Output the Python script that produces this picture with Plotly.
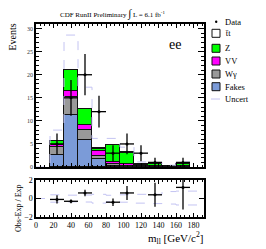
import plotly.graph_objects as go

# ---------------- data ----------------
bin_width = 16
centers = [24, 40, 56, 72, 88, 104, 120, 136, 152, 168]
fakes = [2.6, 11.3, 5.9, 1.8, 0.3, 0.1, 0.1, 0.05, 0.0, 0.05]
wgam  = [1.7, 3.8, 2.2, 0.6, 0.3, 0.1, 0.05, 0.05, 0.0, 0.0]
vv    = [0.5, 1.4, 0.9, 1.1, 0.5, 0.5, 0.2, 0.15, 0.1, 0.1]
zjets = [0.9, 4.5, 3.6, 0.5, 3.7, 2.4, 0.4, 0.4, 0.1, 0.5]
ttbar = [0.0, 0.05, 0.05, 0.05, 0.05, 0.05, 0.0, 0.0, 0.0, 0.0]

data_x   = [24, 40, 56, 72, 88, 104, 120, 136, 168]
data_y   = [5, 15, 20, 12, 3, 5, 3, 1, 1]
data_err = [2.24, 3.87, 4.47, 3.46, 1.73, 2.24, 1.73, 1.0, 1.0]

unc_edges = [0, 16, 32, 48, 64, 80, 96, 112, 128, 144, 160, 176]
unc_hi    = [0, 8.0, 28.6, 17.3, 6.2, 6.2, 4.3, 1.1, 1.0, 0.4, 1.1]

ratio_x   = [24, 40, 56, 88, 104, 136, 168]
ratio_y   = [-0.1, -0.3, 0.6, -0.4, 0.6, 0.4, 1.2]
ratio_err = [0.45, 0.2, 0.35, 0.4, 0.75, 1.3, 2.4]

runc_edges = [0, 16, 32, 48, 64, 80, 96, 112, 128, 144, 160, 176, 192]
runc_hi = [0, 0.4, 0.36, 0.38, 0.45, 0.35, 0.4, 0.45, 0.45, 0.75, 0.8, 0.8]
runc_lo = [0, -0.4, -0.36, -0.38, -0.5, -0.35, -0.4, -0.5, -0.55, -0.6, -0.7, -0.7]

legend_labels = ["Data", "t\u0304t", "Z", "VV", "W\u03b3", "Fakes", "Uncert"]

C_Z = "#00ff00"
C_VV = "#ff00ff"
C_WG = "#999999"
C_FK = "#7b9bd8"
C_TT = "#ffffff"
C_UNC = "#c4c4f2"
FONT = "Liberation Serif"

fig = go.Figure()

# stacked backgrounds
for name, vals, col in [("Fakes", fakes, C_FK), ("Wg", wgam, C_WG), ("VV", vv, C_VV),
                        ("Z", zjets, C_Z), ("tt", ttbar, C_TT)]:
    fig.add_trace(go.Bar(x=centers, y=vals, width=bin_width, name=name,
                         marker=dict(color=col, line=dict(color="#111111", width=1.3)),
                         xaxis="x", yaxis="y", showlegend=False))

# uncertainty upper step
fig.add_trace(go.Scatter(x=unc_edges, y=unc_hi + [unc_hi[-1]], mode="lines", line_shape="hv",
                         line=dict(color=C_UNC, width=1, dash="dash"),
                         xaxis="x", yaxis="y", showlegend=False))

# data
fig.add_trace(go.Scatter(x=data_x, y=data_y, mode="markers",
                         marker=dict(color="black", size=3),
                         error_x=dict(type="constant", value=bin_width / 2, color="black", thickness=1.3, width=0),
                         error_y=dict(type="data", array=data_err, color="black", thickness=1.3, width=0),
                         xaxis="x", yaxis="y", showlegend=False))

# ratio uncertainty band
for arr in (runc_hi, runc_lo):
    fig.add_trace(go.Scatter(x=runc_edges, y=arr + [arr[-1]], mode="lines", line_shape="hv",
                             line=dict(color=C_UNC, width=1, dash="dash"),
                             xaxis="x2", yaxis="y2", showlegend=False))

fig.add_trace(go.Scatter(x=ratio_x, y=ratio_y, mode="markers",
                         marker=dict(color="black", size=3),
                         error_x=dict(type="constant", value=bin_width / 2, color="black", thickness=1.3, width=0),
                         error_y=dict(type="data", array=ratio_err, color="black", thickness=1.3, width=0),
                         xaxis="x2", yaxis="y2", showlegend=False))

# geometry: page body adds an 8px offset, so the figure is 8px smaller
OFF = 8
W, H = 266 - OFF, 249 - OFF
L, T = 36 - OFF, 24 - OFF
R = W - (204 - OFF)
B = H - (217 - OFF)
PW, PH = W - L - R, H - T - B


def px(x):
    return (x - OFF - L) / PW


def py(y):
    return (H - B - (y - OFF)) / PH


axis_common = dict(showgrid=False, zeroline=False, showline=True, linecolor="black", linewidth=1.5,
                   mirror="allticks", ticks="inside", tickcolor="black")

fig.update_layout(
    width=W, height=H, margin=dict(l=L, r=R, t=T, b=B, autoexpand=False),
    paper_bgcolor="white", plot_bgcolor="white",
    barmode="stack", bargap=0, showlegend=False,
    font=dict(family=FONT, color="black"),
    xaxis=dict(domain=[0, 1], range=[0, 192], anchor="y", matches="x2", showticklabels=False,
               dtick=20, tick0=0, ticklen=4, minor=dict(dtick=5, ticklen=2, ticks="inside", tickcolor="black"),
               **axis_common),
    yaxis=dict(domain=[py(167), 1], range=[0, 31], dtick=5, ticklen=6,
               tickfont=dict(size=6, color="#333333"),
               minor=dict(dtick=1, ticklen=3, ticks="inside", tickcolor="black"), **axis_common),
    xaxis2=dict(domain=[0, 1], range=[0, 192], anchor="y2", dtick=20, tick0=0, ticklen=4,
                tickfont=dict(size=8), minor=dict(dtick=5, ticklen=2, ticks="inside", tickcolor="black"),
                **axis_common),
    yaxis2=dict(domain=[0, py(180)], range=[-2, 2], dtick=2, ticklen=5, tickfont=dict(size=8),
                anchor="x2", **axis_common),
)

ann = []
ann.append(dict(x=px(112), y=py(13), xref="paper", yref="paper", showarrow=False,
                xanchor="center", yanchor="middle",
                text="CDF RunII Preliminary <span style='font-size:11px'>\u222b</span> L = 6.1 fb<sup>-1</sup>",
                font=dict(size=7, family=FONT)))
ann.append(dict(x=px(175), y=py(44), xref="paper", yref="paper", showarrow=False,
                xanchor="center", yanchor="middle",
                text="ee", font=dict(size=14, family=FONT)))
ann.append(dict(x=px(12), y=py(22), xref="paper", yref="paper", showarrow=False, textangle=-90,
                xanchor="center", yanchor="top", text="Events", font=dict(size=10, family=FONT)))
ann.append(dict(x=px(18), y=py(208), xref="paper", yref="paper", showarrow=False, textangle=-90,
                xanchor="center", yanchor="middle",
                text="Obs-Exp / Exp", font=dict(size=8, family=FONT)))
ann.append(dict(x=px(205), y=py(238), xref="paper", yref="paper", showarrow=False,
                xanchor="right", yanchor="middle",
                text="m<sub>ll</sub> [GeV/c<sup>2</sup>]", font=dict(size=11, family=FONT)))

# legend (manual, in paper coords)
leg_y = [21.7, 33.3, 48.3, 61, 74, 86.7, 99]
leg_fill = [None, C_TT, C_Z, C_VV, C_WG, C_FK, None]
shapes = []
for lab, yy, col in zip(legend_labels, leg_y, leg_fill):
    ann.append(dict(x=px(223), y=py(yy), xref="paper", yref="paper", showarrow=False,
                    xanchor="left", yanchor="middle",
                    text=lab, font=dict(size=8.5, family=FONT)))
    if col is not None:
        shapes.append(dict(type="rect", xref="paper", yref="paper", x0=px(212), x1=px(220),
                           y0=py(yy + 4), y1=py(yy - 4), fillcolor=col, line=dict(color="#111111", width=1)))
shapes.append(dict(type="circle", xref="paper", yref="paper", x0=px(215), x1=px(217.4),
                   y0=py(leg_y[0] + 1.2), y1=py(leg_y[0] - 1.2), fillcolor="black", line=dict(width=0)))
shapes.append(dict(type="line", xref="paper", yref="paper", x0=px(211), x1=px(221),
                   y0=py(leg_y[6]), y1=py(leg_y[6]), line=dict(color=C_UNC, width=1, dash="dash")))

fig.update_layout(annotations=ann, shapes=shapes)
fig.write_html("out.html")
